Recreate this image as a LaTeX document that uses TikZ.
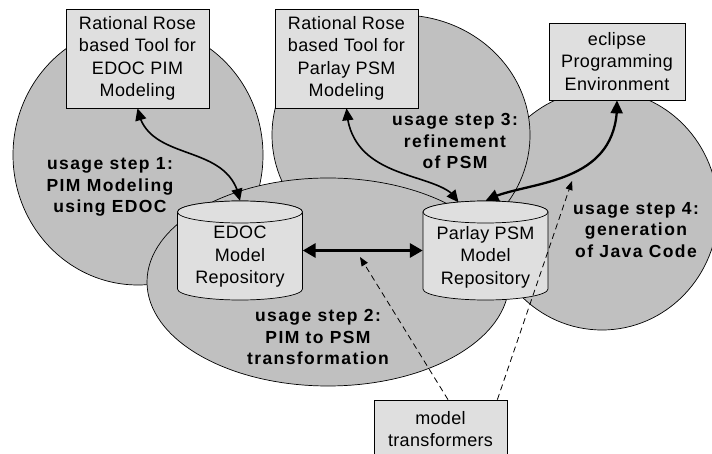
\documentclass[tikz,border=0pt]{standalone}
\usepackage{fontspec}
\setmainfont{Liberation Sans}
\newfontfamily\rfont[LetterSpace=2]{Liberation Sans}
\newfontfamily\bfont[LetterSpace=8]{Liberation Sans}
\usetikzlibrary{arrows.meta,bending,calc}
\definecolor{ellfill}{RGB}{192,192,192}
\definecolor{boxfill}{RGB}{223,223,223}
\tikzset{
  blob/.style={draw=black,fill=ellfill,line width=0.7pt},
  toolbox/.style={draw=black,fill=boxfill,line width=0.7pt,align=center,inner sep=0pt,
    font=\rfont\fontsize{18}{22.5}\selectfont},
  cylbody/.style={draw=black,fill=boxfill,line width=0.7pt},
  cylanchor/.style={inner sep=0pt,minimum width=125pt,minimum height=99pt},
  cyltext/.style={align=center,inner sep=0pt,font=\rfont\fontsize{18}{22.5}\selectfont},
  steplabel/.style={align=center,inner sep=0pt,font=\bfont\bfseries\fontsize{17.5}{21.5}\selectfont},
  thinlink/.style={line width=1.6pt,arrows={Triangle[length=12pt,width=11pt]-Triangle[length=12pt,width=11pt]}},
  thicklink/.style={line width=2.3pt,arrows={Triangle[length=13pt,width=12pt]-Triangle[length=13pt,width=12pt]}},
  widelink/.style={line width=3.2pt,arrows={Triangle[length=13pt,width=14pt]-Triangle[length=13pt,width=14pt]}},
  dashlink/.style={line width=0.8pt,dash pattern=on 6pt off 4pt,arrows={-Triangle[length=9pt,width=7pt]}}
}
\newcommand\drawrepo[3]{%
  \path[cylbody] (#1-62.5,-#2) -- (#1-62.5,-#3)
    arc[start angle=180,end angle=360,x radius=62.5,y radius=11]
    -- (#1+62.5,-#2)
    arc[start angle=0,end angle=180,x radius=62.5,y radius=11] -- cycle;
  \draw[cylbody] (#1,-#2) ellipse[x radius=62.5,y radius=11];
}
\begin{document}
\begin{tikzpicture}[x=1pt,y=1pt]
\useasboundingbox (0,0) rectangle (712,-454);
% usage areas
\draw[blob] (138,-155) ellipse[x radius=125,y radius=130];
\draw[blob] (602,-210) ellipse[x radius=116,y radius=120];
\draw[blob] (401,-135) ellipse[x radius=129,y radius=120];
\draw[blob] (328,-282) ellipse[x radius=181,y radius=104];
% tools
\node[toolbox,minimum width=143pt,minimum height=99pt] (rose1) at (137.5,-58.5)
  {Rational Rose\\based Tool for\\EDOC PIM\\Modeling};
\node[toolbox,minimum width=143pt,minimum height=99pt] (rose2) at (346.5,-58.5)
  {Rational Rose\\based Tool for\\Parlay PSM\\Modeling};
\node[toolbox,minimum width=136pt,minimum height=77pt] (eclipse) at (617,-61.5)
  {eclipse\\Programming\\Environment};
% repositories
\drawrepo{240}{212}{289}
\drawrepo{485.5}{212}{289}
\node[cylanchor] (edoc) at (240,-250.5) {};
\node[cyltext] (edoctext) at (240,-257) {EDOC\\Model\\Repository};
\node[cylanchor] (parlay) at (485.5,-250.5) {};
\node[cyltext] (parlaytext) at (485.5,-257) {Parlay PSM\\Model\\Repository};
% usage labels
\node[steplabel] (s1) at (110,-187) {usage step 1:\\PIM Modeling\\using EDOC};
\node[steplabel] (s3) at (455,-141) {usage step 3:\\refinement\\of PSM};
\node[steplabel] (s4) at (636,-230) {usage step 4:\\generation\\of Java Code};
\node[steplabel] (s2) at (318,-337) {usage step 2:\\PIM to PSM\\transformation};
% connectors
\draw[thinlink] (rose1.south) .. controls (147,-165) and (230,-140) .. (edoc.north);
\draw[thinlink] (rose2.south) .. controls (350,-185) and (445,-170) .. ($(parlay.north)+(-27,-1.5)$);
\draw[thicklink] (parlay.north) .. controls (520,-180) and (620,-190) .. (eclipse.south);
\draw[widelink] (edoc.east) -- (parlay.west);
% model transformers
\node[toolbox,minimum width=133pt,minimum height=58pt] (mt) at (440.5,-429)
  {model\\transformers};
\coordinate (t1) at (360,-257);
\coordinate (t2) at (572,-181);
\draw[dashlink] ($(mt.north)+(7.5,0)$) -- (t1);
\draw[dashlink] ($(mt.north east)+(-10,0)$) -- (t2);
\end{tikzpicture}
\end{document}
